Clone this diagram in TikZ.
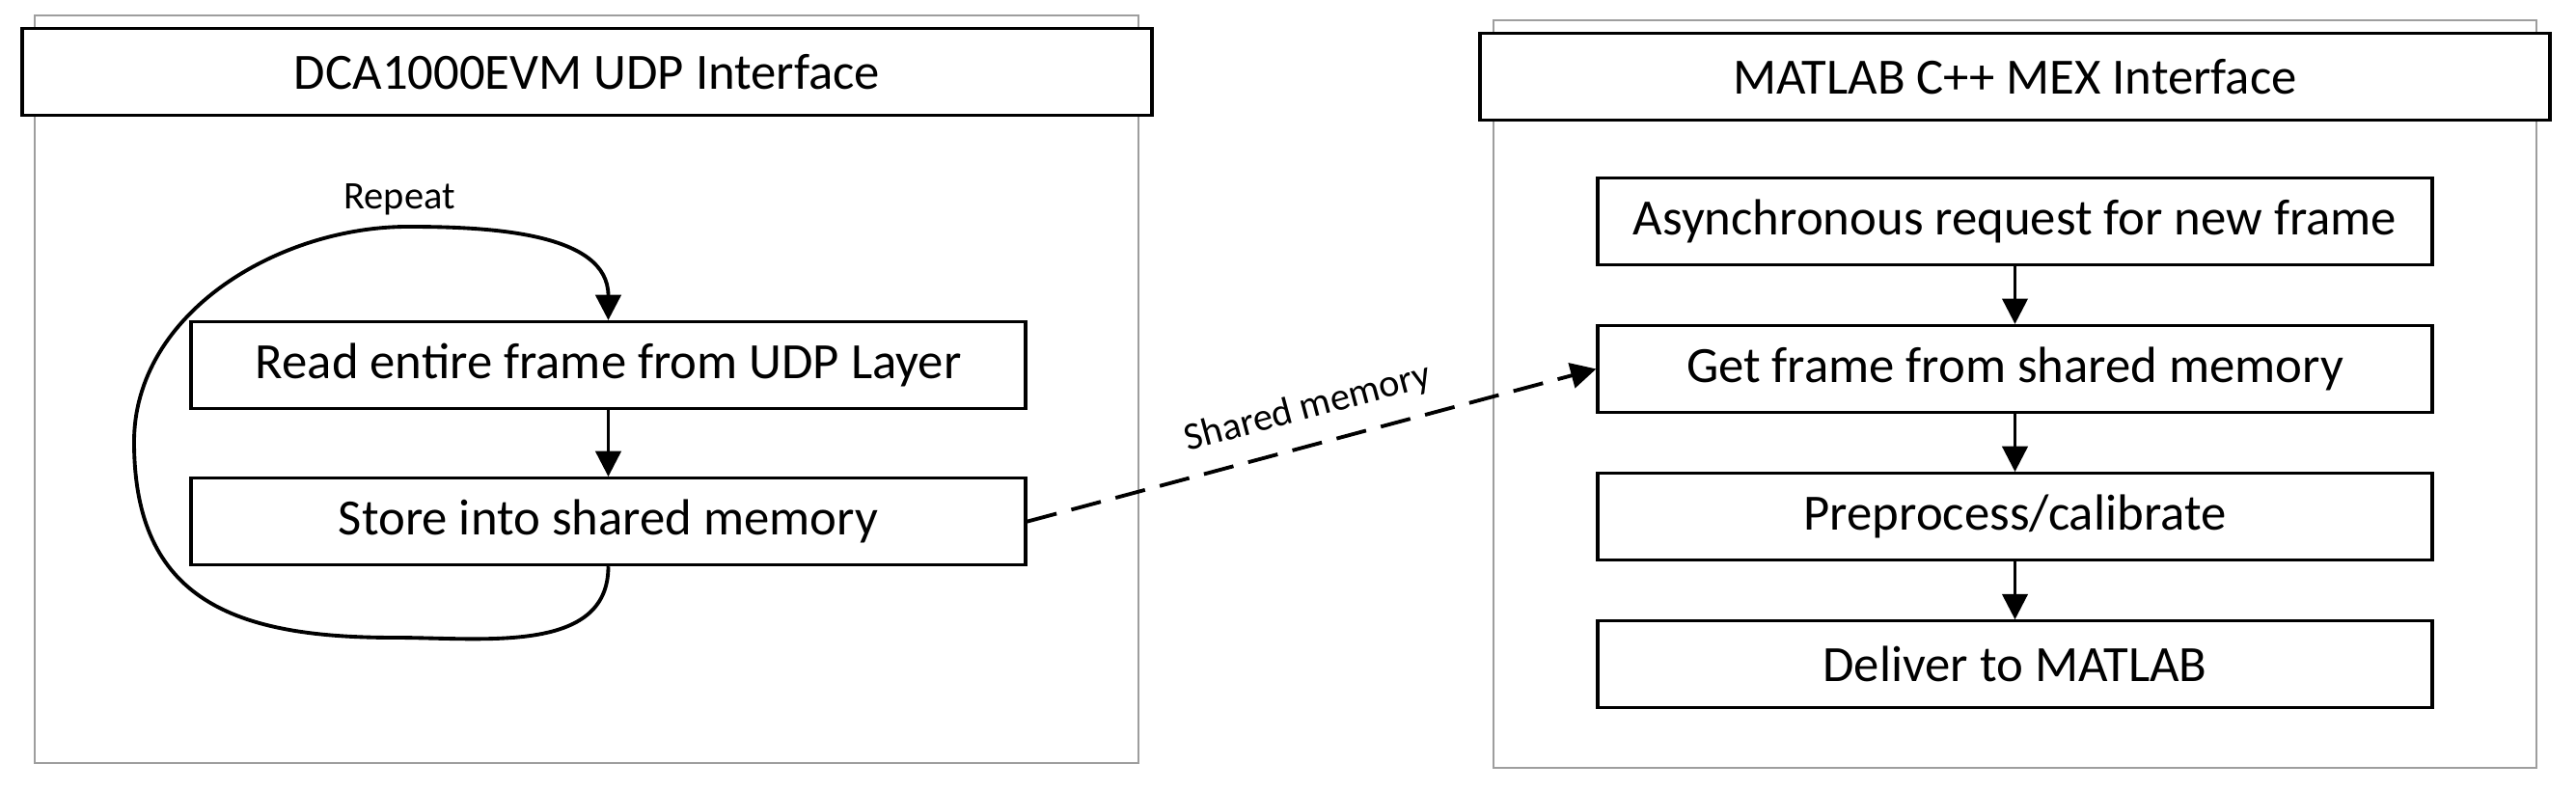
\documentclass[tikz,border=0pt]{standalone}
\usepackage{fontspec}
\setmainfont{Carlito}
\usetikzlibrary{arrows.meta,positioning}

\tikzset{
  panel/.style={draw=black!38, line width=0.8pt},
  titlebox/.style={draw, fill=white, line width=1pt, minimum height=0.9cm, inner sep=0pt, font=\fontsize{15}{18}\selectfont},
  stepbox/.style={draw, line width=0.9pt, minimum width=8.65cm, minimum height=0.9cm, inner sep=0pt, font=\fontsize{15}{18}\selectfont},
  flow/.style={-{Triangle[length=7.5pt,width=7.5pt]}, line width=0.9pt},
  note/.style={font=\fontsize{11.5}{13}\selectfont}
}

\begin{document}
\begin{tikzpicture}[node distance=0.6cm]
    \useasboundingbox (0,0) rectangle (26.70,8.20);
    % the two panels
    \draw[panel] (0.36,0.29) rectangle (11.80,8.04);
    \draw[panel] (15.48,0.24) rectangle (26.29,7.99);
    \node[titlebox, minimum width=11.71cm] (udp) at (6.085,7.455) {DCA1000EVM UDP Interface};
    \node[titlebox, minimum width=11.09cm] (mex) at (20.885,7.403) {MATLAB C++ MEX Interface};
    % left panel
    \node[stepbox] (read) at (6.305,4.415) {Read entire frame from UDP Layer};
    \node[stepbox, below=0.69cm of read] (store) {Store into shared memory};
    \coordinate (loopbot) at (4.09,1.59);
    \coordinate (loopleft) at (1.39,3.62);
    \coordinate (looptop) at (4.23,5.85);
    \node[note, anchor=base] (repeat) at (4.14,6.03) {Repeat};
    \draw[flow] (read) -- (store);
    \draw[flow, line width=1.1pt] (store.south) to[out=-90,in=0] (loopbot)
        to[out=180,in=-90,looseness=1.25] (loopleft)
        to[out=90,in=180,looseness=0.95] (looptop)
        to[out=0,in=90] (read.north);
    % right panel
    \node[stepbox] (async) at (20.885,5.907) {Asynchronous request for new frame};
    \node[stepbox, below=of async] (getframe) {Get frame from shared memory};
    \node[stepbox, below=of getframe] (prep) {Preprocess/calibrate};
    \node[stepbox, below=of prep] (deliver) {Deliver to MATLAB};
    \draw[flow] (async) -- (getframe);
    \draw[flow] (getframe) -- (prep);
    \draw[flow] (prep) -- (deliver);
    % between the panels
    \draw[flow, line width=1.1pt, dash pattern=on 9pt off 4.5pt] (store.east)
        -- node[note, sloped, above=2pt, pos=0.51] (shm) {Shared memory} (getframe.west);
\end{tikzpicture}
\end{document}
